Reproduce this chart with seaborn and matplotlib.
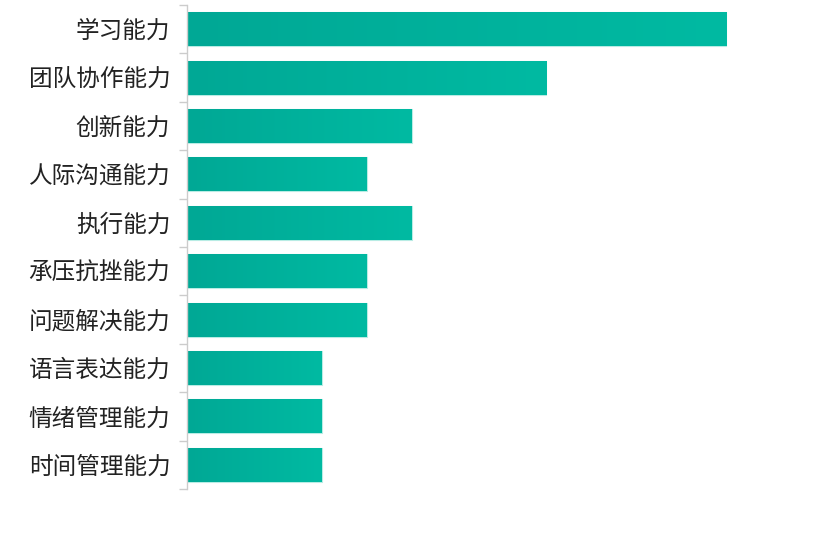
import numpy as np
import pandas as pd
import matplotlib
matplotlib.use("Agg")
import matplotlib.pyplot as plt
from matplotlib.colors import LinearSegmentedColormap
import seaborn as sns

# Ability categories and their counts
abilities = ["学习能力", "团队协作能力", "创新能力", "人际沟通能力", "执行能力",
             "承压抗挫能力", "问题解决能力", "语言表达能力", "情绪管理能力", "时间管理能力"]
counts = [12, 8, 5, 4, 5, 4, 4, 3, 3, 3]

sns.set_theme(style="white")
plt.rcParams["font.family"] = ["Noto Sans CJK SC", "DejaVu Sans"]

df = pd.DataFrame({"ability": abilities, "count": counts})

fig = plt.figure(figsize=(8.17, 5.38), dpi=100)
ax = fig.add_axes([187 / 817, 49 / 538, 620 / 817, 484 / 538])

sns.barplot(data=df, y="ability", x="count", orient="h", ax=ax,
            color="#00b09a", width=0.7, edgecolor="#b8ece4", linewidth=0.8)

# teal horizontal gradient fill clipped to each bar
cmap = LinearSegmentedColormap.from_list("teal", ["#00a895", "#00baa2"])
grad = np.linspace(0, 1, 256).reshape(1, -1)
for patch in ax.patches:
    x0, y0 = patch.get_x(), patch.get_y()
    w, h = patch.get_width(), patch.get_height()
    im = ax.imshow(grad, cmap=cmap, aspect="auto",
                   extent=[x0, x0 + w, y0 + h, y0], zorder=patch.get_zorder() + 0.1)
    im.set_clip_path(patch)
ax.set_xlim(0, 13.8)
ax.set_ylim(len(abilities) - 0.5, -0.5)

ax.set_xlabel("")
ax.set_ylabel("")
ax.set_xticks([])
for s in ["top", "right", "bottom"]:
    ax.spines[s].set_visible(False)
ax.spines["left"].set_color("#cccccc")
ax.spines["left"].set_linewidth(1.0)

# tick labels centred on bars, tick marks on category boundaries
ax.set_yticks(range(len(abilities)))
ax.set_yticklabels(abilities, fontsize=17, color="#222222")
ax.tick_params(axis="y", which="major", left=False, length=0, pad=12)
ax.set_yticks(np.arange(-0.5, len(abilities), 1.0), minor=True)
ax.tick_params(axis="y", which="minor", left=True, length=6,
               color="#cccccc", width=1.0, direction="out")

fig.savefig("out.png", dpi=100)
